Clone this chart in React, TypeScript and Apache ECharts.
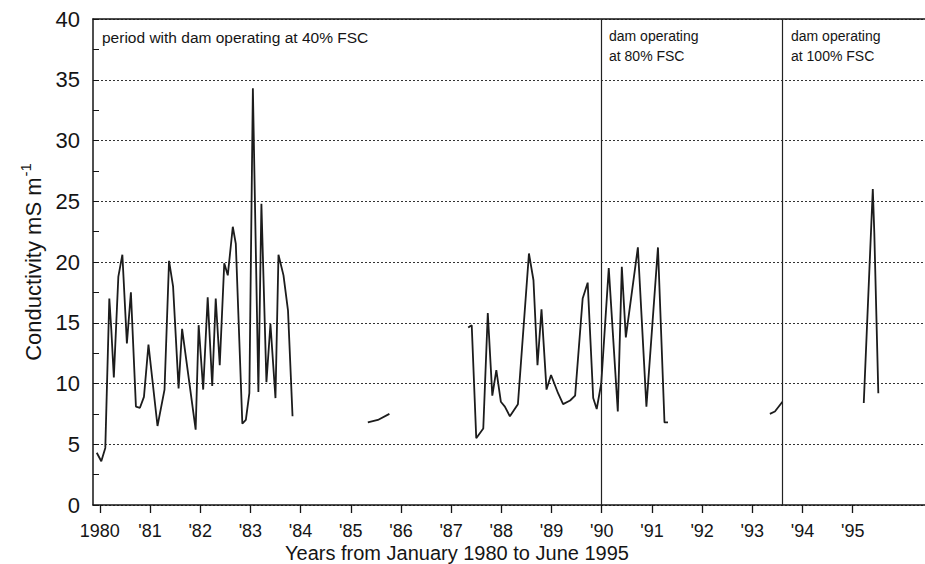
import React, { useEffect, useRef } from 'react';
import * as echarts from 'echarts';

const FONT = '"Liberation Sans", Arial, Helvetica, sans-serif';
const INK = '#151515';

// Conductivity (mS m-1) samples, [decimal year, value], one array per continuous record
const record1980to1983: [number, number][] = [
  [1979.94, 4.3], [1980.03, 3.6], [1980.11, 4.7], [1980.19, 17.0], [1980.23, 14.4],
  [1980.28, 10.5], [1980.37, 18.8], [1980.45, 20.6], [1980.54, 13.3], [1980.62, 17.5],
  [1980.72, 8.1], [1980.80, 8.0], [1980.88, 8.9], [1980.97, 13.2], [1981.15, 6.5],
  [1981.29, 9.5], [1981.38, 20.1], [1981.46, 18.0], [1981.57, 9.6], [1981.64, 14.5],
  [1981.91, 6.2], [1981.97, 14.8], [1982.06, 9.5], [1982.15, 17.1], [1982.24, 9.8],
  [1982.31, 17.0], [1982.39, 11.5], [1982.48, 19.9], [1982.55, 18.9], [1982.65, 22.9],
  [1982.71, 21.5], [1982.84, 6.7], [1982.91, 7.0], [1982.98, 9.2], [1983.05, 34.3],
  [1983.16, 9.3], [1983.22, 24.8], [1983.32, 10.1], [1983.40, 14.9], [1983.50, 8.8],
  [1983.56, 20.6], [1983.66, 18.9], [1983.75, 16.0], [1983.84, 7.3],
];
const record1985: [number, number][] = [
  [1985.34, 6.8], [1985.54, 7.0], [1985.77, 7.5],
];
const record1987to1991: [number, number][] = [
  [1987.34, 14.6], [1987.41, 14.8], [1987.50, 5.5], [1987.64, 6.3], [1987.73, 15.8],
  [1987.82, 9.0], [1987.90, 11.1], [1987.99, 8.5], [1988.07, 8.1], [1988.17, 7.3],
  [1988.33, 8.3], [1988.55, 20.7], [1988.64, 18.5], [1988.72, 11.5], [1988.80, 16.1],
  [1988.90, 9.5], [1988.99, 10.7], [1989.13, 9.2], [1989.23, 8.3], [1989.37, 8.6],
  [1989.47, 9.0], [1989.62, 17.0], [1989.72, 18.3], [1989.83, 8.8], [1989.90, 7.9],
  [1989.99, 10.0], [1990.14, 19.5], [1990.32, 7.7], [1990.40, 19.6], [1990.48, 13.8],
  [1990.72, 21.2], [1990.89, 8.1], [1991.12, 21.2], [1991.25, 6.8], [1991.32, 6.8],
];
const record1993: [number, number][] = [
  [1993.35, 7.5], [1993.45, 7.7], [1993.60, 8.5],
];
const record1995: [number, number][] = [
  [1995.22, 8.4], [1995.40, 26.0], [1995.43, 22.4], [1995.51, 9.2],
];

const records = [record1980to1983, record1985, record1987to1991, record1993, record1995];

const yearTicks = [1980, 1981, 1982, 1983, 1984, 1985, 1986, 1987, 1988, 1989, 1990, 1991, 1992, 1993, 1994, 1995];
const yearLabels = ['1980', "'81", "'82", "'83", "'84", "'85", "'86", "'87", "'88", "'89", "'90", "'91", "'92", "'93", "'94", "'95"];
const regimeChanges = [1990.0, 1993.6];

const X_MIN = 1979.865;
const X_MAX = 1996.44;

export default function App() {
  const ref = useRef<HTMLDivElement>(null);

  useEffect(() => {
    if (!ref.current) return;
    const chart = echarts.init(ref.current, null, { renderer: 'svg' });

    const axisLineStyle = { color: INK, width: 1.5 };

    const series: any[] = records.map((rec, i) => ({
      type: 'line',
      data: rec,
      showSymbol: false,
      symbol: 'none',
      lineStyle: { color: '#1c1c1c', width: 1.8 },
      silent: true,
      z: 3,
      markLine: i === 0 ? {
        silent: true,
        symbol: ['none', 'none'],
        label: { show: false },
        lineStyle: { type: 'solid', color: '#222', width: 1.2 },
        data: regimeChanges.map((x) => ({ xAxis: x })),
      } : undefined,
    }));

    chart.setOption({
      animation: false,
      backgroundColor: '#ffffff',
      grid: { left: 93, right: 0, top: 19, bottom: 59, containLabel: false },
      xAxis: [
        {
          type: 'value',
          min: X_MIN,
          max: X_MAX,
          axisLine: { show: true, onZero: false, lineStyle: axisLineStyle },
          axisTick: { show: true, inside: false, length: 8, customValues: yearTicks, lineStyle: { color: INK, width: 1.3 } },
          axisLabel: {
            customValues: yearTicks,
            formatter: (v: number) => yearLabels[yearTicks.indexOf(Math.round(v))] ?? '',
            fontSize: 18,
            lineHeight: 18,
            fontFamily: FONT,
            color: INK,
            margin: 17,
          },
          splitLine: { show: false },
        },
        {
          type: 'value',
          position: 'top',
          min: X_MIN,
          max: X_MAX,
          axisLine: { show: true, onZero: false, lineStyle: axisLineStyle },
          axisTick: { show: false },
          axisLabel: { show: false },
          splitLine: { show: false },
        },
      ],
      yAxis: {
        type: 'value',
        min: 0,
        max: 40,
        interval: 5,
        axisLine: { show: true, onZero: false, lineStyle: axisLineStyle },
        axisTick: { show: true, inside: true, length: 6, lineStyle: { color: INK, width: 1 } },
        minorTick: { show: true, splitNumber: 2, length: 6, lineStyle: { color: INK, width: 1 } },
        axisLabel: { fontSize: 22, fontFamily: FONT, color: INK, margin: 13 },
        splitLine: { show: true, lineStyle: { type: [2, 2], color: '#333', width: 1 } },
      },
      graphic: [
        {
          type: 'text',
          left: 285,
          top: 543,
          style: { text: 'Years from January 1980 to June 1995', fontSize: 20, lineHeight: 20, fontFamily: FONT, fill: INK },
        },
        {
          type: 'text',
          x: 31,
          y: 262,
          rotation: Math.PI / 2,
          style: {
            text: '{a|Conductivity mS m}{b|-1}',
            align: 'center',
            verticalAlign: 'middle',
            fill: INK,
            rich: {
              a: { fontSize: 22, fontFamily: FONT, fill: INK, lineHeight: 26, verticalAlign: 'bottom' },
              b: { fontSize: 15, fontFamily: FONT, fill: INK, lineHeight: 26, verticalAlign: 'top', padding: [0, 0, 0, 1] },
            },
          },
        },
        {
          type: 'text',
          left: 102,
          top: 29,
          style: { text: 'period with dam operating at 40% FSC', fontSize: 15.5, fontFamily: FONT, fill: INK },
        },
        {
          type: 'text',
          left: 609,
          top: 26,
          style: { text: 'dam operating\nat 80% FSC', fontSize: 14, lineHeight: 20, fontFamily: FONT, fill: INK },
        },
        {
          type: 'text',
          left: 791,
          top: 26,
          style: { text: 'dam operating\nat 100% FSC', fontSize: 14, lineHeight: 20, fontFamily: FONT, fill: INK },
        },
      ],
      series,
    });

    return () => chart.dispose();
  }, []);

  return (
    <div
      ref={ref}
      style={{ position: 'fixed', left: 0, top: 0, width: 925, height: 564 }}
    />
  );
}
